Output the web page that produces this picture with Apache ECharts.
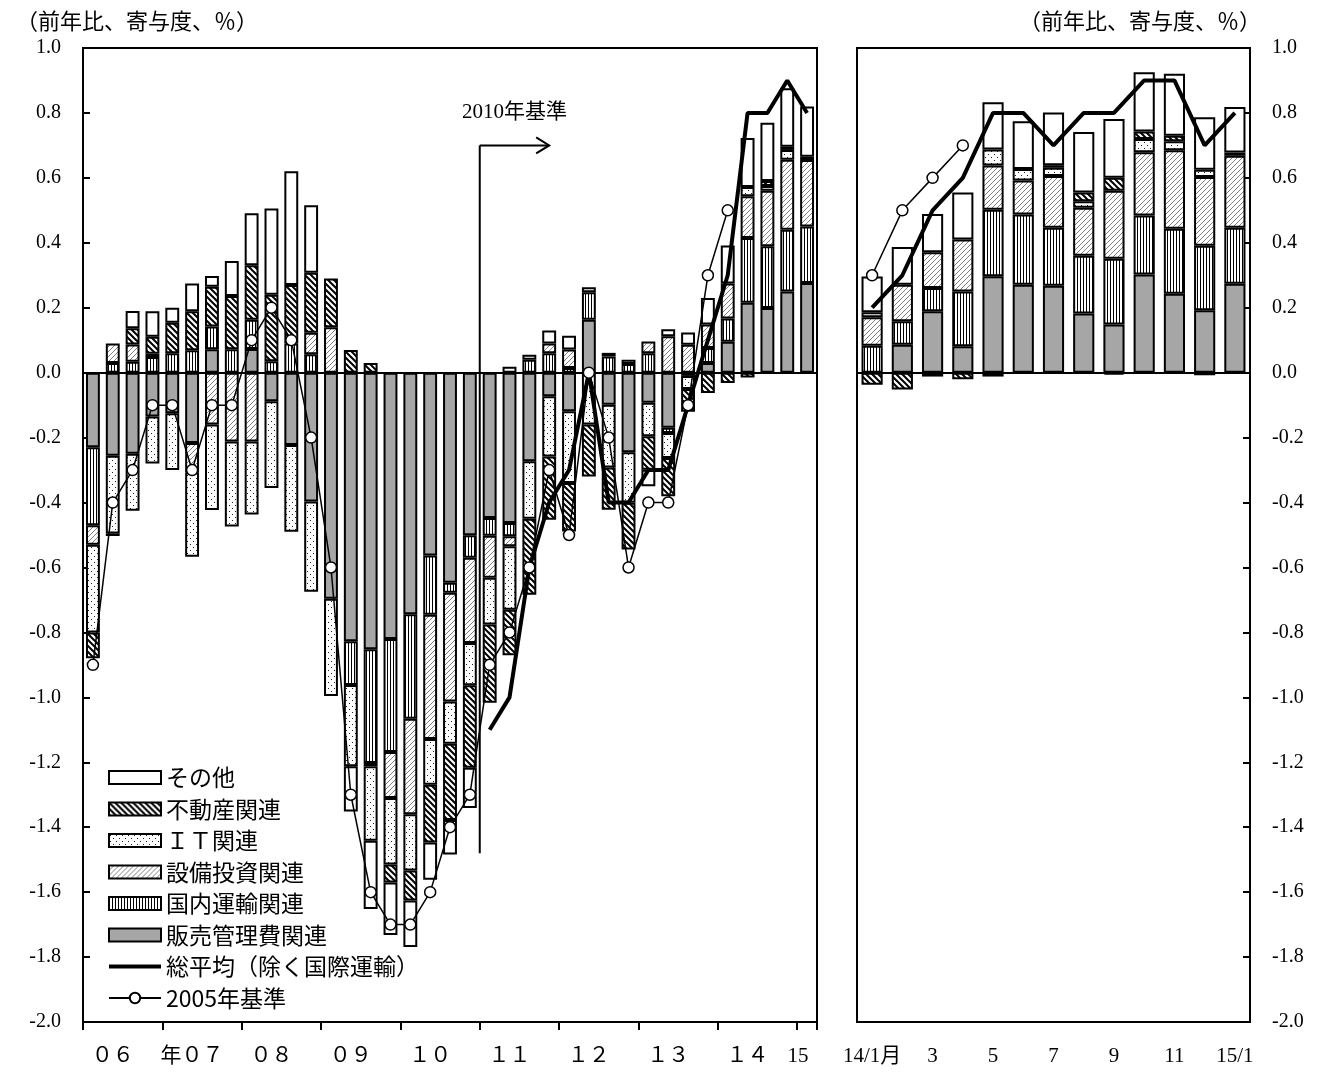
<!DOCTYPE html>
<html>
<head>
<meta charset="utf-8">
<script src="https://cdn.jsdelivr.net/npm/echarts@6/dist/echarts.min.js"></script>
<style>html,body{margin:0;padding:0;background:#fff}#c{width:1327px;height:1072px}</style>
</head>
<body>
<div id="c"></div>
<script>
// ---------- categories ----------
const quarters = [
  '06Q1','06Q2','06Q3','06Q4','07Q1','07Q2','07Q3','07Q4','08Q1','08Q2','08Q3','08Q4',
  '09Q1','09Q2','09Q3','09Q4','10Q1','10Q2','10Q3','10Q4','11Q1','11Q2','11Q3','11Q4',
  '12Q1','12Q2','12Q3','12Q4','13Q1','13Q2','13Q3','13Q4','14Q1','14Q2','14Q3','14Q4','15Q1'
];
const quarterAxisLabels = [
  '','０６','','','','年０７','','','','０８','','','','０９','','','','１０','','','','１１','','',
  '','１２','','','','１３','','','','１４','','','15'
];
const months = ['14/1','14/2','14/3','14/4','14/5','14/6','14/7','14/8','14/9','14/10','14/11','14/12','15/1'];
const monthAxisLabels = ['14/1月','','3','','5','','7','','9','','11','','15/1'];
const yTickLabels = ['-2.0','-1.8','-1.6','-1.4','-1.2','-1.0','-0.8','-0.6','-0.4','-0.2','0.0','0.2','0.4','0.6','0.8','1.0'];

// ---------- quarterly contributions (left panel) ----------
const qSGA = [-0.23,-0.256,-0.25,-0.135,-0.125,-0.217,0.072,null,0.073,-0.088,-0.223,-0.397,
  -0.696,-0.827,-0.852,-0.82,-0.744,-0.563,-0.647,-0.501,-0.448,-0.463,-0.273,-0.073,
  -0.119,0.163,-0.099,-0.245,-0.093,-0.17,-0.01,0.03,0.095,0.215,0.199,0.25,0.276];
const qTransport = [-0.24,0.03,0.034,0.048,0.06,0.069,0.07,0.072,0.09,0.035,0.09,0.057,
  null,-0.135,-0.35,-0.348,-0.322,-0.183,-0.031,-0.069,-0.054,-0.041,0.04,0.06,
  0.014,0.085,0.05,0.027,0.06,-0.016,null,0.046,0.072,0.2,0.19,0.19,0.174];
const qCapex = [-0.06,0.06,0.053,0.01,null,-0.09,-0.16,-0.212,-0.212,null,null,0.066,
  0.14,null,-0.01,-0.142,-0.294,-0.382,-0.335,-0.263,-0.13,-0.031,null,0.03,
  0.057,null,null,null,0.036,0.112,0.086,0.072,0.108,0.128,0.171,0.216,0.205];
const qIT = [-0.27,-0.239,-0.175,-0.145,-0.175,-0.26,-0.263,-0.262,-0.225,-0.267,-0.267,-0.278,
  -0.30,-0.25,-0.23,-0.205,-0.173,-0.141,-0.13,-0.13,-0.144,-0.195,-0.177,-0.185,
  -0.221,-0.16,-0.193,-0.156,-0.103,-0.077,-0.04,null,null,0.029,0.015,0.03,null];
const qRealEstate = [-0.08,-0.008,0.05,0.053,0.094,0.12,0.123,0.164,0.168,0.205,0.18,0.185,
  0.15,0.07,0.03,-0.055,-0.093,-0.178,-0.235,-0.254,-0.241,-0.14,-0.234,-0.195,
  -0.149,-0.16,-0.13,-0.144,-0.103,-0.118,-0.07,-0.063,-0.032,-0.015,0.015,0.01,0.01];
const qOther = [null,null,0.053,0.078,0.046,0.086,0.033,0.108,0.16,0.266,0.35,0.208,
  null,-0.14,-0.21,-0.162,-0.143,-0.115,-0.106,-0.124,null,0.018,0.015,0.04,
  0.043,0.015,0.011,0.013,-0.051,0.022,0.038,0.082,0.117,0.151,0.18,0.18,0.155];
const qTotal2010 = [null,null,null,null,null,null,null,null,null,null,null,null,
  null,null,null,null,null,null,null,null,-1.1,-1.0,-0.6,-0.4,
  -0.3,0.0,-0.4,-0.4,-0.3,-0.3,-0.1,0.1,0.3,0.8,0.8,0.9,0.8];
const qTotal2005 = [-0.9,-0.4,-0.3,-0.1,-0.1,-0.3,-0.1,-0.1,0.1,0.2,0.1,-0.2,
  -0.6,-1.3,-1.6,-1.7,-1.7,-1.6,-1.4,-1.3,-0.9,-0.8,-0.6,-0.3,
  -0.5,0.0,-0.2,-0.6,-0.4,-0.4,-0.1,0.3,0.5,null,null,null,null];

// ---------- monthly contributions (right panel) ----------
const mSGA = [null,0.086,0.189,0.081,0.297,0.271,0.268,0.182,0.148,0.302,0.243,0.192,0.274];
const mTransport = [0.083,0.072,0.072,0.169,0.205,0.216,0.178,0.178,0.203,0.182,0.2,0.199,0.172];
const mCapex = [0.088,0.113,0.11,0.16,0.136,0.105,0.16,0.148,0.209,0.195,0.242,0.212,0.222];
const mIT = [0.015,null,null,null,0.049,0.035,0.025,0.02,-0.006,0.041,0.028,0.022,null];
const mRealEstate = [-0.037,-0.052,-0.012,-0.02,-0.012,null,0.008,0.027,0.04,0.023,0.017,-0.008,0.01];
const mOther = [0.11,0.116,0.118,0.145,0.146,0.147,0.162,0.186,0.181,0.182,0.191,0.162,0.14];
const mTotal2010 = [0.2,0.3,0.5,0.6,0.8,0.8,0.7,0.8,0.8,0.9,0.9,0.7,0.8];
const mTotal2005 = [0.3,0.5,0.6,0.7,null,null,null,null,null,null,null,null,null];

// ---------- names ----------
const NAME_SGA = '販売管理費関連';
const NAME_TR = '国内運輸関連';
const NAME_CAP = '設備投資関連';
const NAME_IT = 'ＩＴ関連';
const NAME_RE = '不動産関連';
const NAME_OTH = 'その他';
const NAME_T10 = '総平均（除く国際運輸）';
const NAME_T05 = '2005年基準';

// ---------- patterns ----------
function makePattern(w, h, draw) {
  const c = document.createElement('canvas');
  c.width = w; c.height = h;
  const ctx = c.getContext('2d');
  ctx.fillStyle = '#fff';
  ctx.fillRect(0, 0, w, h);
  draw(ctx);
  return { image: c, repeat: 'repeat' };
}
const fillGray = '#a6a6a6';
const fillStripes = makePattern(3, 4, ctx => { ctx.fillStyle = '#000'; ctx.fillRect(0, 0, 1, 4); });
const fillLightHatch = makePattern(5, 5, ctx => {
  ctx.strokeStyle = '#808080'; ctx.lineWidth = 1;
  ctx.beginPath();
  ctx.moveTo(-1, 6); ctx.lineTo(6, -1);
  ctx.moveTo(-1, 1); ctx.lineTo(1, -1);
  ctx.moveTo(4, 6); ctx.lineTo(6, 4);
  ctx.stroke();
});
const fillDarkHatch = makePattern(6, 6, ctx => {
  ctx.strokeStyle = '#000'; ctx.lineWidth = 2;
  ctx.beginPath();
  ctx.moveTo(-1, -1); ctx.lineTo(7, 7);
  ctx.moveTo(-1, 5); ctx.lineTo(1, 7);
  ctx.moveTo(5, -1); ctx.lineTo(7, 1);
  ctx.stroke();
});
const fillDots = makePattern(6, 6, ctx => {
  ctx.fillStyle = '#222';
  ctx.fillRect(1, 1, 1, 1);
  ctx.fillRect(4, 4, 1, 1);
});
const fillWhite = '#ffffff';

const FONT = "'Liberation Serif', 'Noto Sans CJK JP', serif";
const CJK = "'Noto Sans CJK JP', sans-serif";

const components = [
  { name: NAME_SGA, q: qSGA, m: mSGA, fill: fillGray },
  { name: NAME_TR, q: qTransport, m: mTransport, fill: fillStripes },
  { name: NAME_CAP, q: qCapex, m: mCapex, fill: fillLightHatch },
  { name: NAME_IT, q: qIT, m: mIT, fill: fillDots },
  { name: NAME_RE, q: qRealEstate, m: mRealEstate, fill: fillDarkHatch },
  { name: NAME_OTH, q: qOther, m: mOther, fill: fillWhite }
];

const series = [];
components.forEach(c => {
  series.push({
    type: 'bar', name: c.name, xAxisIndex: 0, yAxisIndex: 0, stack: 'left',
    data: c.q, barCategoryGap: '30%',
    itemStyle: { color: c.fill, borderColor: '#000', borderWidth: 2 }
  });
  series.push({
    type: 'bar', name: c.name, xAxisIndex: 1, yAxisIndex: 1, stack: 'right',
    data: c.m, barCategoryGap: '30%',
    itemStyle: { color: c.fill, borderColor: '#000', borderWidth: 2 }
  });
});
const zeroLine = {
  silent: true, symbol: 'none', label: { show: false },
  lineStyle: { color: '#000', width: 2, type: 'solid' },
  data: [{ yAxis: 0 }]
};
[[0, qTotal2010, qTotal2005], [1, mTotal2010, mTotal2005]].forEach(([idx, t10, t05]) => {
  series.push({
    type: 'line', name: NAME_T10, xAxisIndex: idx, yAxisIndex: idx, data: t10,
    symbol: 'none', lineStyle: { color: '#000', width: 4 }, itemStyle: { color: '#000' },
    z: 5, markLine: zeroLine
  });
  series.push({
    type: 'line', name: NAME_T05, xAxisIndex: idx, yAxisIndex: idx, data: t05,
    symbol: 'circle', symbolSize: 11, showAllSymbol: true,
    lineStyle: { color: '#000', width: 1.5 },
    itemStyle: { color: '#fff', borderColor: '#000', borderWidth: 1.5 },
    z: 6
  });
});

const axisLineStyle = { color: '#000', width: 2 };
const yAxisBase = {
  type: 'value', min: -2, max: 1, interval: 0.2,
  axisLine: { show: true, lineStyle: axisLineStyle },
  axisTick: { show: true, inside: true, length: 7, lineStyle: axisLineStyle },
  splitLine: { show: false },
  axisLabel: {
    fontSize: 20, color: '#000', fontFamily: FONT, margin: 22,
    formatter: v => yTickLabels[Math.round((v + 2) / 0.2)]
  }
};

const chart = echarts.init(document.getElementById('c'), null, { renderer: 'canvas' });
chart.setOption({
  animation: false,
  backgroundColor: '#fff',
  grid: [
    { left: 83, top: 48, width: 734, height: 974, show: true, borderColor: '#000', borderWidth: 2, backgroundColor: 'transparent' },
    { left: 857, top: 48, width: 393, height: 974, show: true, borderColor: '#000', borderWidth: 2, backgroundColor: 'transparent' }
  ],
  xAxis: [
    {
      gridIndex: 0, type: 'category', data: quarters, boundaryGap: true,
      axisLine: { onZero: false, lineStyle: axisLineStyle },
      axisTick: { show: true, interval: (i) => i % 4 === 0, length: 8, lineStyle: axisLineStyle },
      axisLabel: {
        interval: 0, margin: 24, fontSize: 21, color: '#000', fontFamily: FONT,
        formatter: (v, i) => (i === quarters.length - 1 ? '{shift|' + quarterAxisLabels[i] + '}' : quarterAxisLabels[i]),
        rich: { shift: { fontSize: 21, fontFamily: FONT, color: '#000', padding: [0, 18, 0, 0] } }
      },
      splitLine: { show: false }
    },
    {
      gridIndex: 1, type: 'category', data: months, boundaryGap: true,
      axisLine: { onZero: false, lineStyle: axisLineStyle },
      axisTick: { show: false },
      axisLabel: { interval: 0, formatter: (v, i) => monthAxisLabels[i], margin: 24, fontSize: 21, color: '#000', fontFamily: FONT },
      splitLine: { show: false }
    }
  ],
  yAxis: [
    Object.assign({ gridIndex: 0, position: 'left' }, yAxisBase),
    Object.assign({ gridIndex: 1, position: 'right' }, yAxisBase)
  ],
  legend: {
    orient: 'vertical', left: 103, top: 761,
    itemWidth: 52, itemHeight: 13, itemGap: 8.5,
    selectedMode: false,
    textStyle: { fontSize: 23, lineHeight: 22, color: '#000', fontFamily: CJK },
    data: [
      { name: NAME_OTH, icon: 'rect' },
      { name: NAME_RE, icon: 'rect' },
      { name: NAME_IT, icon: 'rect' },
      { name: NAME_CAP, icon: 'rect' },
      { name: NAME_TR, icon: 'rect' },
      { name: NAME_SGA, icon: 'rect' },
      { name: NAME_T10, icon: 'path://M0,0L52,0L52,4L0,4Z', itemStyle: { color: '#000', borderWidth: 0 } },
      { name: NAME_T05 }
    ]
  },
  series: series
});

// ---------- annotations ----------
const baseChange = { afterIndex: 19, beforeIndex: 20, top: 0.7, bottom: -1.48, arrowToIndex: 23, labelValue: 0.8, label: '2010年基準' };
const pA = chart.convertToPixel({ gridIndex: 0 }, [baseChange.afterIndex, baseChange.top]);
const pB = chart.convertToPixel({ gridIndex: 0 }, [baseChange.beforeIndex, baseChange.bottom]);
const pArrow = chart.convertToPixel({ gridIndex: 0 }, [baseChange.arrowToIndex, baseChange.top]);
const pLabel = chart.convertToPixel({ gridIndex: 0 }, [baseChange.afterIndex, baseChange.labelValue]);
const xb = (pA[0] + pB[0]) / 2;
const unitText = '（前年比、寄与度、％）';
chart.setOption({
  graphic: [
    { type: 'text', left: 16, top: 10, style: { text: unitText, font: "22px " + CJK, fill: '#000' } },
    { type: 'text', right: 66, top: 10, style: { text: unitText, font: "22px " + CJK, fill: '#000' } },
    { type: 'line', shape: { x1: xb, y1: pA[1], x2: xb, y2: pB[1] }, style: { stroke: '#000', lineWidth: 2 }, z: 10 },
    { type: 'line', shape: { x1: xb, y1: pA[1], x2: pArrow[0], y2: pA[1] }, style: { stroke: '#000', lineWidth: 2 }, z: 10 },
    { type: 'polyline', shape: { points: [[pArrow[0] - 13, pA[1] - 8], [pArrow[0], pA[1]], [pArrow[0] - 13, pA[1] + 8]] }, style: { stroke: '#000', lineWidth: 2, fill: null }, z: 10 },
    { type: 'text', x: (xb + pArrow[0]) / 2, y: pLabel[1], style: { text: baseChange.label, font: "21px " + FONT, fill: '#000', textAlign: 'center', textVerticalAlign: 'middle' }, z: 10 }
  ]
});
</script>
</body>
</html>
